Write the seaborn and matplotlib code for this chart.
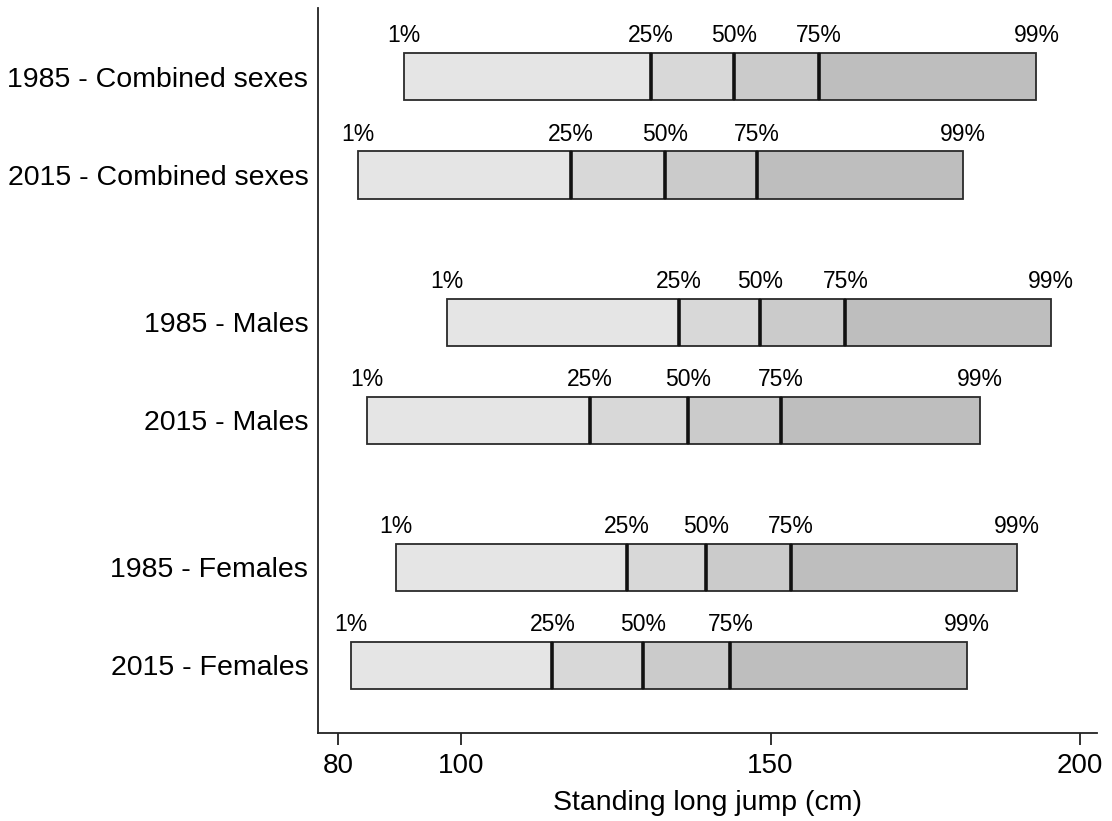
import pandas as pd
import numpy as np
import seaborn as sns
import matplotlib.pyplot as plt


groups = ["1985 - Combined sexes", "2015 - Combined sexes",
          "1985 - Males", "2015 - Males",
          "1985 - Females", "2015 - Females"]
positions = [0, 1, 2.5, 3.5, 5, 6]
pct_labels = ["1%", "25%", "50%", "75%", "99%"]

p01 = [90.7, 83.3, 97.7, 84.7, 89.4, 82.1]
p25 = [130.6, 117.7, 135.2, 120.8, 126.7, 114.7]
p50 = [144.1, 132.9, 148.3, 136.7, 139.5, 129.3]
p75 = [157.8, 147.8, 162.1, 151.7, 153.3, 143.5]
p99 = [193.0, 181.1, 195.4, 183.9, 189.8, 181.7]

colors = ["#e5e5e5", "#d8d8d8", "#cbcbcb", "#bebebe"]
bar_w = 0.48

sns.set_style("ticks")
plt.rcParams["font.family"] = ["Liberation Sans", "DejaVu Sans"]

fig = plt.figure(figsize=(11.12, 8.21), dpi=100)
ax = fig.add_axes([0.286, 0.107, 0.7005, 0.883])

bounds = [p01, p25, p50, p75, p99]
for i in range(4):
    df = pd.DataFrame({
        "pos": positions,
        "start": bounds[i],
        "len": np.array(bounds[i + 1]) - np.array(bounds[i]),
    }).sort_values("pos")
    sns.barplot(data=df, x="len", y="pos", orient="y", native_scale=True,
                left=df["start"].values, width=bar_w, color=colors[i],
                saturation=1, edgecolor="#2a2a2a", linewidth=1.3,
                errorbar=None, ax=ax)

# heavier dividers at the quartiles
pos_arr = np.array(positions)
for b in [p25, p50, p75]:
    ax.vlines(b, pos_arr - bar_w / 2, pos_arr + bar_w / 2,
              color="#111111", linewidth=2.6, zorder=3)

for j, pos in enumerate(positions):
    for k, lab in enumerate(pct_labels):
        ax.text(bounds[k][j], pos - bar_w / 2 - 0.06, lab, ha="center",
                va="bottom", fontsize=16.5, color="black")

ax.set_xlim(76.8, 202.8)
ax.set_ylim(6.69, -0.70)
ax.set_xticks([80, 100, 150, 200])
ax.set_yticks(positions)
ax.set_yticklabels(groups)
ax.tick_params(axis="y", length=0, pad=7, labelsize=20.5, labelcolor="black")
ax.tick_params(axis="x", length=8.5, width=1.3, pad=6, labelsize=20,
               labelcolor="black", color="#222222")
ax.set_xlabel("Standing long jump (cm)", fontsize=20.5, labelpad=8,
              color="black")
ax.set_ylabel("")
sns.despine(ax=ax)
for s in ["left", "bottom"]:
    ax.spines[s].set_linewidth(1.3)
    ax.spines[s].set_color("#222222")

plt.savefig("out.png", dpi=100)
plt.close()
